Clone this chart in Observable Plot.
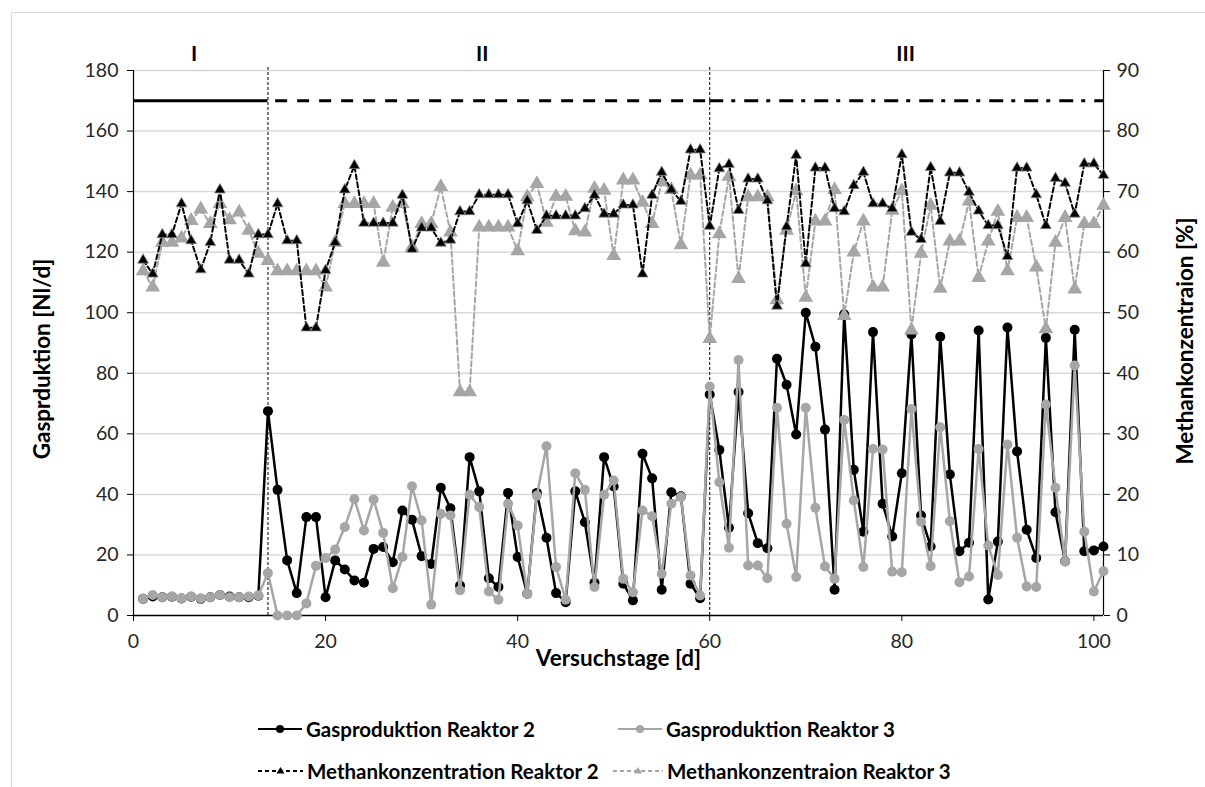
<!DOCTYPE html>
<html><head><meta charset="utf-8">
<script src="https://cdn.jsdelivr.net/npm/d3@7"></script>
<script src="https://cdn.jsdelivr.net/npm/@observablehq/plot@0.6"></script>
<style>
body{margin:0;background:#fff;font-family:Lato, sans-serif;}
#wrap{position:relative;width:1205px;height:787px;overflow:hidden;background:#fff;}
#frame{position:absolute;left:11px;top:12px;width:1300px;height:900px;border:1px solid #d9d9d9;}
#chart{position:absolute;left:0;top:0;}
.li{position:absolute;display:flex;align-items:center;font-weight:bold;font-size:20.5px;color:#000;white-space:nowrap;height:22px;}
.li svg{margin-right:4px;}
</style></head>
<body><div id="wrap"><div id="frame"></div><div id="chart"></div><div id="legend"></div></div>
<script>
// ---- data ----
const days = d3.range(1, 102);
const gasR2 = [5.5,6.3,6,6.2,5.6,6.2,5.5,6,6.8,6.3,6,6,6.5,67.5,41.5,18.2,7.4,32.5,32.5,6,
  18.2,15.2,11.6,10.8,22,22.6,17.6,34.7,31.6,19.6,17,42.2,35.4,9.9,52.3,41,12.3,9.4,40.5,19.3,
  7.2,40.5,25.7,7.4,4.4,41,30.8,10.8,52.3,42.6,10.5,5,53.4,45.3,8.5,40.7,39.4,10.5,5.7,73,
  54.7,29,73.8,33.8,23.9,22.2,84.8,76.2,59.8,100,88.8,61.4,8.5,99.5,48.1,27.7,93.6,36.9,26.1,47,
  92.8,33,22.8,92.1,46.6,21.2,24,94.1,5.3,24.4,95.1,54.2,28.3,19,91.7,34.1,17.9,94.4,21.2,21.5,22.8];
const gasR3 = [5.5,6.8,6,6.3,5.6,6.3,5.6,6,6.8,6,6,6.3,6.6,14,0,0,0,4,16.4,19,
  21.8,29.2,38.5,28.1,38.3,27.3,9,19.3,42.7,31.4,3.6,33.6,33,8.3,39.9,35.8,7.9,5.2,36.9,29.7,
  7.2,39.6,55.9,16,5.2,47,41.5,9.4,39.9,44.6,12.1,7.7,34.7,32.8,13.8,36.9,39.1,13.2,6.6,75.6,
  44,22.4,84.4,16.5,16.5,12.3,68.6,30.3,12.7,68.6,35.6,16.2,12.1,64.6,38,16,55,54.8,14.5,14.3,
  68.2,31,16.3,62.2,31.1,11,12.9,55,23.1,13.4,56.5,25.7,9.6,9.4,69.7,42.2,17.8,82.6,27.7,7.9,14.6];
const methR2 = [58.7,56.4,62.9,62.9,68,61.9,57.1,61.6,70.3,58.7,58.7,56.4,62.9,62.9,68,61.9,61.9,47.5,47.5,57,
  61.6,70.3,74.3,64.8,64.8,64.8,64.8,69.4,60.5,64,64,61.5,62,66.7,66.7,69.5,69.5,69.5,69.5,64.7,
  68.5,63.6,66,66,66,66,67.2,69.4,66.3,66.3,67.8,67.8,56.4,69.4,73.2,70.3,68.4,76.9,76.9,64.3,
  73.8,74.5,66.9,72.1,72.1,68.5,51.1,64.2,76,58.1,73.9,73.9,67.2,66.7,71,73.2,68,68,67.2,76.1,
  63.3,62.1,74,65.1,73.1,73.1,69.9,66.8,64.4,64.4,59.3,73.9,73.9,69.5,64.4,72.2,71.4,66.3,74.6,74.6,72.7];
const methR3 = [56.9,54.2,61.6,61.6,62.3,65.2,67.1,64.7,68,65.3,66.6,63.6,59.8,58.6,56.9,56.9,56.9,56.9,56.9,54.2,
  61.6,68,68,68,68,58.3,67.4,68,60.8,64.7,64.7,70.8,63.3,36.9,36.9,64.1,64.1,64.1,64.1,60.2,
  69.1,71.3,64.9,69.2,69.2,63.5,63.3,70.5,70.2,59.4,71.9,71.9,68.2,64.7,71.6,70.3,61.2,72.7,72.7,45.7,
  63,72.5,55.6,69.1,69.1,69.1,52.1,63.6,70.1,52.5,65.1,65.1,70.3,49.5,60,65.1,54.2,54.2,66.9,70.1,
  47.1,59.8,67.7,54,61.8,61.8,68.4,55.8,61.8,66.7,56.9,65.7,65.7,57.5,47.3,61.6,65.7,53.9,64.7,64.7,67.7];
const xTicks = [0, 20, 40, 60, 80, 100];
const yTicksLeft = [0, 20, 40, 60, 80, 100, 120, 140, 160, 180];
const yTicksRight = [0, 10, 20, 30, 40, 50, 60, 70, 80, 90];
const phaseLabels = ["I", "II", "III"];
const phaseLabelX = [6.3, 36.3, 80.4];
const phaseStart = [0, 14.8, 60];
const phaseEnd = [14, 60, 101];
const phaseLevel = 170;
const phaseBounds = [14, 60];
const seriesNames = ["Gasproduktion Reaktor 2", "Gasproduktion Reaktor 3",
  "Methankonzentration Reaktor 2", "Methankonzentraion Reaktor 3"];

// ---- build ----
const k = 180 / 90; // secondary axis (%) mapped onto primary scale
const rows = days.map((d, i) => ({day: d, g2: gasR2[i], g3: gasR3[i], m2: methR2[i], m3: methR3[i]}));
const phases = phaseStart.map((s, i) => ({x1: s, x2: phaseEnd[i], y: phaseLevel}));
const labels = phaseLabels.map((t, i) => ({t, x: phaseLabelX[i]}));
const font = "Lato, 'Open Sans', sans-serif";
const black = "#000", grey = "#a6a6a6", tickCol = "#262626";

const chart = Plot.plot({
  width: 1205, height: 690,
  marginLeft: 133, marginRight: 102, marginTop: 70, marginBottom: 75,
  style: {fontFamily: font, fontSize: "19.5px", background: "transparent", overflow: "visible", color: "#000"},
  x: {domain: [0, 101]},
  y: {domain: [0, 180]},
  marks: [
    Plot.gridY(yTicksLeft.slice(1), {stroke: "#d9d9d9", strokeOpacity: 1, strokeWidth: 1.5}),
    Plot.axisX(xTicks, {tickSize: 6, tickPadding: 13, label: null, fill: tickCol, fontSize: 19.5}),
    Plot.axisY(yTicksLeft, {anchor: "left", tickSize: 6, tickPadding: 9, label: null, fill: tickCol, fontSize: 19.5}),
    Plot.axisY(yTicksRight.map(v => v * k), {anchor: "right", tickSize: 6, tickPadding: 7, label: null,
      tickFormat: v => String(v / k), fill: tickCol, fontSize: 19.5}),
    Plot.ruleX([0, 101], {stroke: black, strokeWidth: 1.2}),
    Plot.ruleY([0], {stroke: black, strokeWidth: 1.5}),
    // phase boundaries
    Plot.ruleX(phaseBounds, {y1: 0, y2: 181.5, stroke: black, strokeWidth: 1, strokeDasharray: "3,2"}),
    // phase bars
    Plot.ruleY(phases.slice(0, 1), {x1: "x1", x2: "x2", y: "y", stroke: black, strokeWidth: 3}),
    Plot.ruleY(phases.slice(1, 2), {x1: "x1", x2: "x2", y: "y", stroke: black, strokeWidth: 3, strokeDasharray: "12,10"}),
    Plot.ruleY(phases.slice(2, 3), {x1: "x1", x2: "x2", y: "y", stroke: black, strokeWidth: 3, strokeDasharray: "14,8,4,9"}),
    Plot.text(labels, {x: "x", y: 185.5, text: "t", fontSize: 21, fontWeight: "bold", fill: black}),
    // gas production
    Plot.line(rows, {x: "day", y: "g2", stroke: black, strokeWidth: 2.5}),
    Plot.dot(rows, {x: "day", y: "g2", r: 5, fill: black}),
    Plot.line(rows, {x: "day", y: "g3", stroke: grey, strokeWidth: 2.5}),
    Plot.dot(rows, {x: "day", y: "g3", r: 5, fill: grey}),
    // methane
    Plot.line(rows, {x: "day", y: d => d.m3 * k, stroke: grey, strokeWidth: 2, strokeDasharray: "5,3"}),
    Plot.dot(rows, {x: "day", y: d => d.m3 * k, symbol: "triangle", r: 5.5, fill: grey}),
    Plot.line(rows, {x: "day", y: d => d.m2 * k, stroke: black, strokeWidth: 2, strokeDasharray: "5,3"}),
    Plot.dot(rows, {x: "day", y: d => d.m2 * k, symbol: "triangle", r: 4, fill: black, stroke: "#8c8c8c", strokeWidth: 0.8}),
    // axis titles
    Plot.text(["Versuchstage [d]"], {frameAnchor: "bottom", dy: 50, fontSize: 22.5, fontWeight: "bold", fill: black}),
    Plot.text(["Gasprduktion [Nl/d]"], {frameAnchor: "left", textAnchor: "middle", dx: -91, dy: 16, rotate: -90, fontSize: 22.5, fontWeight: "bold", fill: black}),
    Plot.text(["Methankonzentraion [%]"], {frameAnchor: "right", textAnchor: "middle", dx: 82, dy: -2, rotate: -90, fontSize: 22.5, fontWeight: "bold", fill: black})
  ]
});
document.getElementById("chart").appendChild(chart);

// ---- legend ----
const legendPos = [[258, 718], [618, 718], [258, 760], [613, 760]];
const legendStyle = [
  {stroke: black, dash: null, sym: "circle", fill: black, w: 44},
  {stroke: grey, dash: null, sym: "circle", fill: grey, w: 44},
  {stroke: black, dash: "4,3", sym: "tri", fill: black, w: 45},
  {stroke: grey, dash: "4,3", sym: "tri", fill: grey, w: 50}
];
const lg = document.getElementById("legend");
seriesNames.forEach((name, i) => {
  const s = legendStyle[i];
  const el = document.createElement("div");
  el.className = "li";
  el.style.left = legendPos[i][0] + "px";
  el.style.top = legendPos[i][1] + "px";
  const w = s.w, c = w / 2;
  const marker = s.sym === "circle"
    ? `<circle cx="${c}" cy="11" r="4" fill="${s.fill}"/>`
    : `<path d="M${c},7 L${c + 4},13.5 L${c - 4},13.5 Z" fill="${s.fill}"/>`;
  el.innerHTML = `<svg width="${w}" height="22"><line x1="0" x2="${w}" y1="11" y2="11" stroke="${s.stroke}" stroke-width="2" ${s.dash ? `stroke-dasharray="${s.dash}"` : ""}/>${marker}</svg><span>${name}</span>`;
  lg.appendChild(el);
});
</script>
</body></html>
